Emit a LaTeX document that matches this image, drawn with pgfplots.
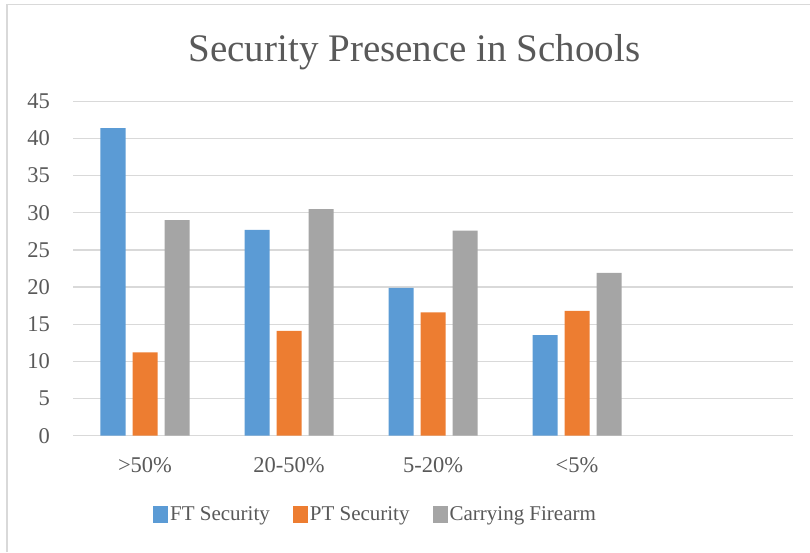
\documentclass[border=0pt]{standalone}
\usepackage{fontspec}
\setmainfont{Liberation Serif}
\usepackage{pgfplots}
\pgfplotsset{compat=1.18}
\definecolor{ftblue}{HTML}{5B9BD5}
\definecolor{ptorange}{HTML}{ED7D31}
\definecolor{cfgrey}{HTML}{A5A5A5}
\definecolor{txt}{HTML}{595959}
\definecolor{gridc}{HTML}{D9D9D9}
\begin{document}
\begin{tikzpicture}[x=1pt,y=1pt]
\useasboundingbox (0,0) rectangle (810,552);
\draw[gridc, line width=1.2pt] (7,0) -- (7,547.5) -- (810,547.5);
\node[anchor=base, text=txt, font=\fontsize{39}{44}\selectfont, inner sep=0pt] at (414.5,490) {Security Presence in Schools};
\begin{axis}[
  at={(73pt,116.3pt)}, anchor=south west, scale only axis,
  width=720pt, height=334.4pt,
  ymin=0, ymax=45, xmin=-0.5, xmax=4.5,
  ytick={0,5,...,45},
  xtick={0,1,2,3},
  xticklabels={{>50\%},{20-50\%},{5-20\%},{<5\%}},
  ymajorgrids, grid style={gridc, line width=1.2pt},
  axis line style={draw=none},
  major tick length=0pt,
  ybar=7pt, bar width=25pt,
  tick label style={text=txt, font=\fontsize{22.5}{26}\selectfont, inner sep=0pt},
  yticklabel style={xshift=-23pt},
  xticklabel style={yshift=-22pt},
  /pgf/number format/assume math mode=true,
  legend image code/.code={\fill[#1] (0pt,-8pt) rectangle (15pt,9pt);},
  legend style={at={(0.111,-0.236)}, anchor=west, draw=none, fill=none,
    legend columns=3, font=\fontsize{21}{24}\selectfont, text=txt,
    inner sep=0pt, nodes={inner sep=2pt},
    /tikz/every even column/.append style={column sep=21pt}},
]
\addplot[fill=ftblue, draw=none] coordinates {(0,41.4) (1,27.7) (2,19.9) (3,13.55)};
\addlegendentry{FT Security}
\addplot[fill=ptorange, draw=none] coordinates {(0,11.2) (1,14.1) (2,16.6) (3,16.8)};
\addlegendentry{PT Security}
\addplot[fill=cfgrey, draw=none] coordinates {(0,29.0) (1,30.5) (2,27.6) (3,21.9)};
\addlegendentry{Carrying Firearm}
\end{axis}
\end{tikzpicture}
\end{document}
